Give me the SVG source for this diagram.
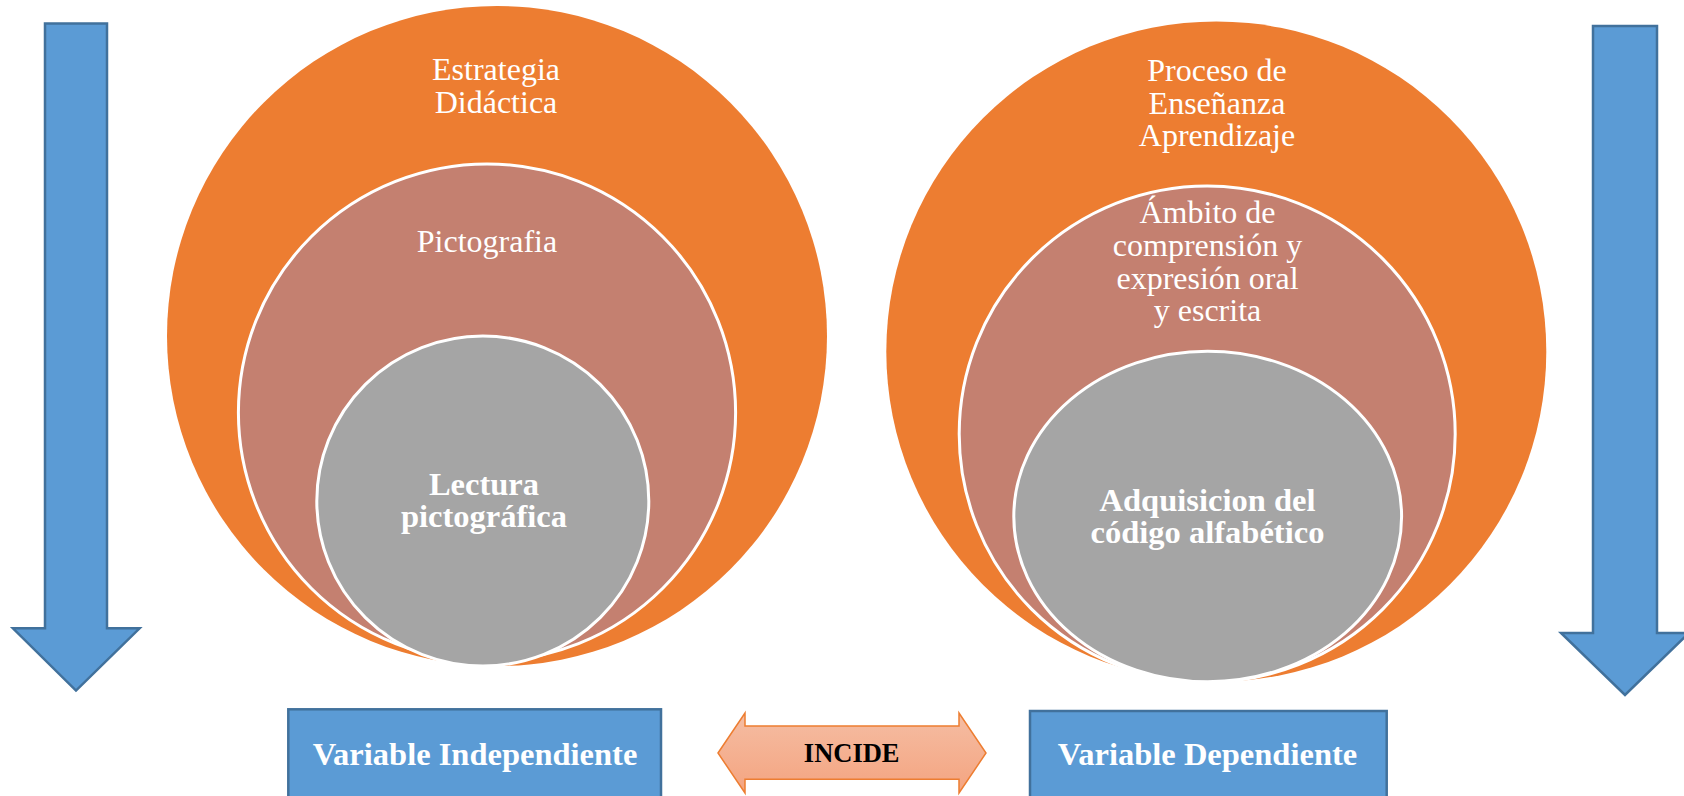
<svg xmlns="http://www.w3.org/2000/svg" width="1684" height="796" viewBox="0 0 1684 796">
<style>
.orange{fill:#ED7D31;}
.pink{fill:#C48070;stroke:#FFFFFF;stroke-width:3;}
.gray{fill:#A5A5A5;stroke:#FFFFFF;stroke-width:3;}
.blue{fill:#5B9BD5;stroke:#41719C;stroke-width:2.5;}
.t{font-family:"Liberation Serif","Times New Roman",serif;font-size:32px;fill:#FFFFFF;text-anchor:middle;}
.b{font-weight:bold;font-size:32.5px;}
.k{font-family:"Liberation Serif","Times New Roman",serif;font-size:26.5px;font-weight:bold;fill:#000000;text-anchor:middle;}
</style>
<defs>
<linearGradient id="incGrad" x1="0" y1="0" x2="0" y2="1">
<stop offset="0" stop-color="#F5BDA3"/>
<stop offset="1" stop-color="#F4A480"/>
</linearGradient>
</defs>
<rect width="1684" height="796" fill="#FFFFFF"/>
<g id="arrow-left">
<polygon class="blue" points="45,23.6 107,23.6 107,628.3 139.6,628.3 76,690.6 12.9,628.3 45,628.3"/>
</g>
<g id="arrow-right">
<polygon class="blue" points="1593,26 1657,26 1657,633 1689,633 1625,695 1561,633 1593,633"/>
</g>
<g id="estrategia-didactica">
<circle class="orange" cx="497" cy="336" r="330"/>
<text class="t" x="496" y="80">Estrategia</text>
<text class="t" x="496" y="112.7">Didáctica</text>
</g>
<g id="pictografia">
<circle class="pink" cx="487" cy="412.5" r="248.6"/>
<text class="t" x="487" y="251.7">Pictografia</text>
</g>
<g id="lectura-pictografica">
<ellipse class="gray" cx="482.8" cy="501" rx="166" ry="165"/>
<text class="t b" x="484" y="495">Lectura</text>
<text class="t b" x="484" y="527">pictográfica</text>
</g>
<g id="proceso-ensenanza">
<circle class="orange" cx="1216.3" cy="351.5" r="330"/>
<text class="t" x="1217" y="80.5">Proceso de</text>
<text class="t" x="1217" y="113.5">Enseñanza</text>
<text class="t" x="1217" y="146">Aprendizaje</text>
</g>
<g id="ambito">
<circle class="pink" cx="1207.2" cy="434" r="248"/>
<text class="t" x="1207.5" y="223.3">Ámbito de</text>
<text class="t" x="1207.5" y="256">comprensión y</text>
<text class="t" x="1207.5" y="289">expresión oral</text>
<text class="t" x="1207.5" y="321">y escrita</text>
</g>
<g id="adquisicion">
<ellipse class="gray" cx="1207.7" cy="516.5" rx="193.9" ry="165.2"/>
<text class="t b" x="1207.5" y="510.7">Adquisicion del</text>
<text class="t b" x="1207.5" y="542.7">código alfabético</text>
</g>
<g id="variable-independiente">
<rect class="blue" x="288.3" y="709.3" width="372.7" height="100"/>
<text class="t b" x="475" y="765">Variable Independiente</text>
</g>
<g id="variable-dependiente">
<rect class="blue" x="1030" y="711" width="356.7" height="100"/>
<text class="t b" x="1207.5" y="765">Variable Dependiente</text>
</g>
<g id="connectors">
<g id="incide">
<polygon fill="url(#incGrad)" stroke="#ED7D31" stroke-width="1.5" points="718,753 745,713 745,726 959,726 959,713 986,753 959,793 959,779.3 745,779.3 745,793"/>
<text class="k" x="851.7" y="761.7">INCIDE</text>
</g>
</g>
</svg>
